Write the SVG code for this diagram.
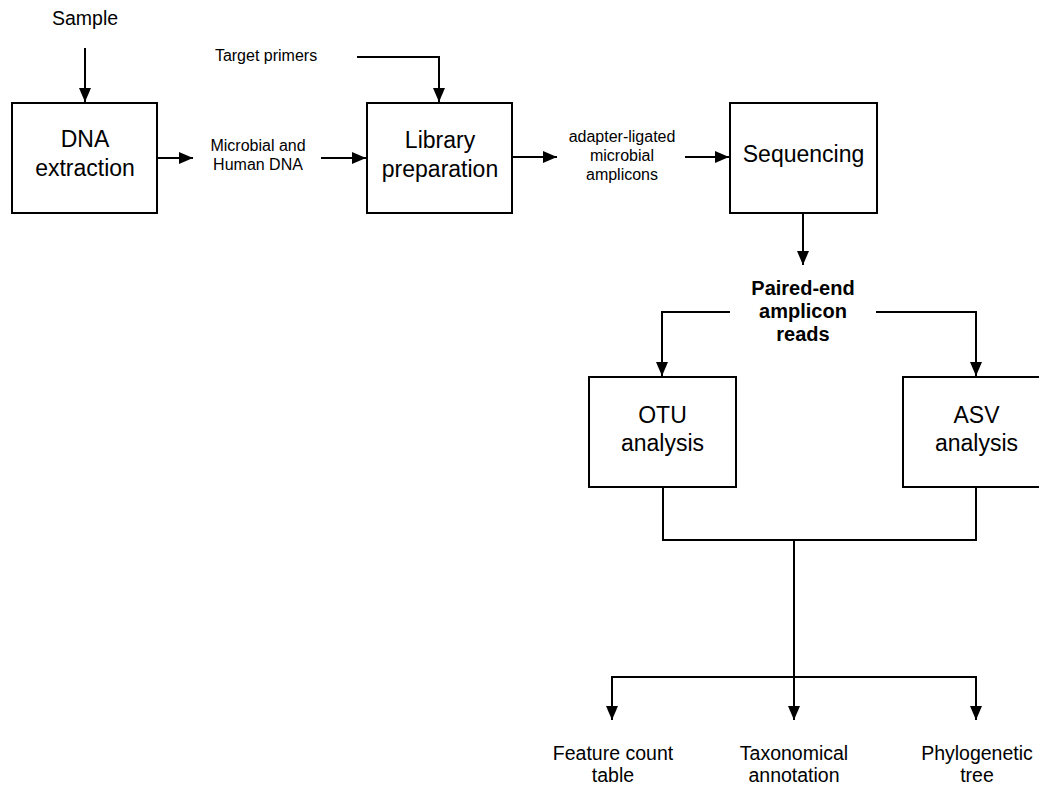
<svg xmlns="http://www.w3.org/2000/svg" width="1039" height="785" viewBox="0 0 1039 785">
  <style>
    .box { fill: #ffffff; stroke: #000000; stroke-width: 2; }
    .lbl { font-family: "Liberation Sans", Arial, sans-serif; fill: #000000; text-anchor: middle; }
    .big { font-size: 23px; }
    .mid { font-size: 19.5px; }
    .small { font-size: 16px; }
    .bold { font-size: 20px; font-weight: bold; }
    .edge { fill: none; stroke: #000000; stroke-width: 2; }
    .arr { marker-end: url(#arrow); }
  </style>
  <defs>
    <marker id="arrow" viewBox="0 0 14 12" refX="14" refY="6" markerWidth="14" markerHeight="12" markerUnits="userSpaceOnUse" orient="auto">
      <path d="M0,0 L14,6 L0,12 z" fill="#000000"/>
    </marker>
  </defs>
  <rect width="1039" height="785" fill="#ffffff"/>

  <!-- connectors -->
  <g id="connectors">
    <path class="edge arr" d="M85,48 V102"/>
    <path class="edge arr" d="M157,158 H193"/>
    <path class="edge arr" d="M321,158 H366"/>
    <path class="edge arr" d="M357,57 H439 V102"/>
    <path class="edge arr" d="M512,157 H557"/>
    <path class="edge arr" d="M685,157 H729"/>
    <path class="edge arr" d="M803,213 V265"/>
    <path class="edge arr" d="M730,312 H662 V376"/>
    <path class="edge arr" d="M876,312 H976 V376"/>
    <path class="edge" d="M663,487 V540 H976 V487"/>
    <path class="edge arr" d="M794,540 V720"/>
    <path class="edge arr" d="M794,677 H612 V720"/>
    <path class="edge arr" d="M794,677 H976 V720"/>
  </g>

  <!-- free labels -->
  <g id="sample"><text class="lbl mid" x="85" y="25">Sample</text></g>
  <g id="target-primers"><text class="lbl small" x="266" y="61">Target primers</text></g>
  <g id="dna-mix">
    <text class="lbl small" x="258" y="151">Microbial and</text>
    <text class="lbl small" x="258" y="170">Human DNA</text>
  </g>
  <g id="amplicons">
    <text class="lbl small" x="622" y="142">adapter-ligated</text>
    <text class="lbl small" x="622" y="161">microbial</text>
    <text class="lbl small" x="622" y="180">amplicons</text>
  </g>
  <g id="reads">
    <text class="lbl bold" x="803" y="295">Paired-end</text>
    <text class="lbl bold" x="803" y="318">amplicon</text>
    <text class="lbl bold" x="803" y="341">reads</text>
  </g>

  <!-- process boxes -->
  <g id="dna-extraction">
    <rect class="box" x="12" y="103" width="145" height="110"/>
    <text class="lbl big" x="85" y="147">DNA</text>
    <text class="lbl big" x="85" y="176">extraction</text>
  </g>
  <g id="library-preparation">
    <rect class="box" x="367" y="103" width="145" height="110"/>
    <text class="lbl big" x="440" y="148">Library</text>
    <text class="lbl big" x="440" y="177">preparation</text>
  </g>
  <g id="sequencing">
    <rect class="box" x="730" y="103" width="147" height="110"/>
    <text class="lbl big" x="803.5" y="162">Sequencing</text>
  </g>
  <g id="otu-analysis">
    <rect class="box" x="589" y="377" width="147" height="110"/>
    <text class="lbl big" x="662.5" y="423">OTU</text>
    <text class="lbl big" x="662.5" y="451">analysis</text>
  </g>
  <g id="asv-analysis">
    <rect class="box" x="903" y="377" width="147" height="110"/>
    <text class="lbl big" x="976.5" y="423">ASV</text>
    <text class="lbl big" x="976.5" y="451">analysis</text>
  </g>

  <!-- outputs -->
  <g id="feature-count-table">
    <text class="lbl mid" x="613" y="760">Feature count</text>
    <text class="lbl mid" x="613" y="782">table</text>
  </g>
  <g id="taxonomical-annotation">
    <text class="lbl mid" x="794" y="760">Taxonomical</text>
    <text class="lbl mid" x="794" y="782">annotation</text>
  </g>
  <g id="phylogenetic-tree">
    <text class="lbl mid" x="977" y="760">Phylogenetic</text>
    <text class="lbl mid" x="977" y="782">tree</text>
  </g>
</svg>
